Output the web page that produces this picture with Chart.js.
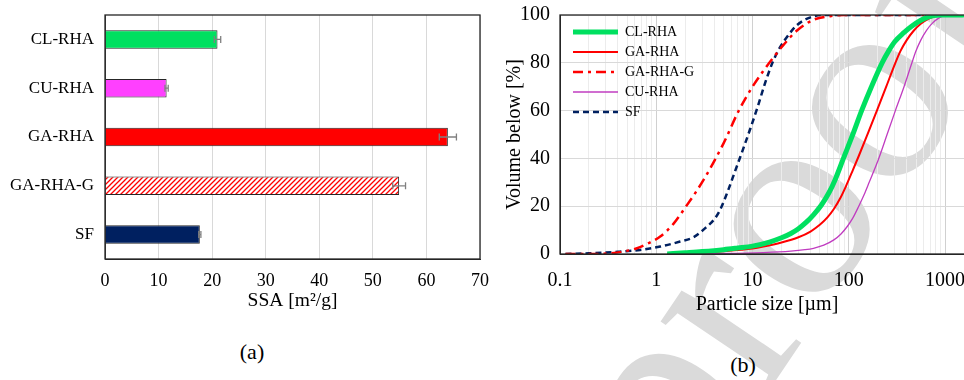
<!DOCTYPE html>
<html>
<head>
<meta charset="utf-8">
<script src="https://cdn.jsdelivr.net/npm/chart.js@4.4.1/dist/chart.umd.min.js"></script>
<style>
  html, body { margin: 0; padding: 0; background: #fff; overflow: hidden; }
  body { width: 964px; height: 380px; position: relative; font-family: "Liberation Serif", "Times New Roman", serif; }
  #boxA { position: absolute; left: 0; top: 0; width: 500px; height: 325px; }
  #boxB { position: absolute; left: 490px; top: 0; width: 520px; height: 330px; }
  .cap { position: absolute; font-size: 22px; transform: translate(-50%, -50%); }
  #mark { position: absolute; right: -61px; top: -223px; font-size: 280px; line-height: 1; white-space: nowrap;
          color: #dadada; pointer-events: none;
          transform: rotate(-56deg); transform-origin: 100% 83.75%; }
</style>
</head>
<body>
<div id="mark">Journal Pre-proof</div>
<div id="boxA"><canvas id="ssaChart"></canvas></div>
<div id="boxB"><canvas id="psdChart"></canvas></div>
<div class="cap" style="left:252px; top:352px;">(a)</div>
<div class="cap" style="left:743px; top:365px;">(b)</div>
<script>
// (a) specific surface area
const ssaLabels = ["CL-RHA", "CU-RHA", "GA-RHA", "GA-RHA-G", "SF"];
const ssaValues = [21.0, 11.5, 64.0, 54.9, 17.7];
const ssaErrors = [0.6, 0.3, 1.6, 1.2, 0.2];

// (b) particle size distribution, size in µm / volume below in %
const sizeTicks = [0.1, 1, 10, 100, 1000];
const clrhaSize = [1.3, 2, 3, 5, 7, 10, 15, 20, 25, 30, 36, 43, 52, 62, 72, 88, 110, 136, 172, 222, 260, 300, 371, 450, 550, 650, 760, 900, 2000];
const clrhaVol  = [0, 0.5, 1.0, 1.8, 2.5, 3.3, 5.0, 6.8, 8.6, 10.6, 13.2, 16.4, 20.5, 25.5, 31, 40, 50, 60, 70, 80, 85, 88.8, 92.5, 95.3, 97.6, 99, 99.8, 100, 100];
const garhaSize = [1.3, 2, 5, 10, 13, 20, 30, 40, 50, 60, 70, 82, 95, 110, 127, 158, 196, 245, 305, 345, 400, 470, 560, 670, 822, 950, 2000];
const garhaVol  = [0, 0.3, 1.2, 2.3, 3.1, 4.8, 7.0, 9.4, 12.2, 15.3, 18.8, 23.5, 29, 35, 41, 50.5, 60, 70, 80, 85, 89.5, 93.3, 96.3, 98.4, 99.7, 100, 100];
const garhagSize = [0.114, 0.2, 0.33, 0.45, 0.63, 0.8, 1.1, 1.5, 1.92, 3.1, 5, 7.2, 10, 12.9, 16.7, 21, 29, 43, 64, 90, 2000];
const garhagVol  = [0, 0, 0.3, 1.0, 2.4, 4.2, 7.3, 12.5, 18.4, 31, 46.3, 60, 70, 76.5, 82.5, 87.5, 93.5, 98, 99.5, 100, 100];
const curhaSize = [1.3, 5, 13, 25, 35, 43, 55, 70, 83, 96, 110, 127, 145, 163, 205, 250, 305, 375, 453, 500, 560, 640, 740, 860, 1000, 1150, 2000];
const curhaVol  = [0, 0.2, 0.6, 1.2, 1.8, 2.4, 3.7, 5.9, 8.4, 11.4, 15, 20, 25, 30, 40, 50, 60, 70, 80, 85, 89.5, 93.5, 96.6, 98.7, 99.7, 100, 100];
const sfSize = [0.114, 0.2, 0.4, 0.68, 1.1, 1.77, 2.44, 3.35, 4.0, 4.6, 5.6, 6.5, 8, 9.5, 11.4, 13.5, 16.3, 19, 23, 29, 40, 54, 2000];
const sfVol  = [0, 0.3, 0.9, 1.7, 3.1, 5.2, 7.0, 11.4, 14.5, 18.4, 26.8, 34, 44, 52.5, 62, 71.5, 80.5, 86, 91, 95.8, 99, 100, 100];

const serif = "'Liberation Serif', 'Times New Roman', serif";

function toPoints(xs, ys) {
    return xs.map((x, i) => ({ x: x, y: ys[i] }));
}

// diagonal red hatch for GA-RHA-G
function hatchPattern() {
    let c = document.createElement("canvas");
    c.width = 5; c.height = 5;
    let g = c.getContext("2d");
    g.fillStyle = "#fff";
    g.fillRect(0, 0, 5, 5);
    g.strokeStyle = "#ff0000";
    g.lineWidth = 1.3;
    g.beginPath();
    g.moveTo(-1, 6); g.lineTo(6, -1);
    g.moveTo(-1, 1); g.lineTo(1, -1);
    g.moveTo(4, 6); g.lineTo(6, 4);
    g.stroke();
    return g.createPattern(c, "repeat");
}

// box round the plot area
const frame = {
    id: "frame",
    afterDatasetsDraw(chart) {
        let a = chart.chartArea, ctx = chart.ctx;
        ctx.save();
        ctx.strokeStyle = "#262626";
        ctx.lineWidth = 1.3;
        ctx.strokeRect(a.left, a.top, a.right - a.left, a.bottom - a.top);
        ctx.restore();
    }
};

// horizontal error bars read from ssaErrors
const errorBars = {
    id: "errorBars",
    afterDatasetsDraw(chart) {
        let ctx = chart.ctx, xs = chart.scales.x, ys = chart.scales.y;
        ctx.save();
        ctx.strokeStyle = "#808080";
        ctx.lineWidth = 1.3;
        ssaValues.forEach((v, i) => {
            let x1 = xs.getPixelForValue(v - ssaErrors[i]);
            let x2 = xs.getPixelForValue(v + ssaErrors[i]);
            let y = ys.getPixelForValue(i);
            ctx.beginPath();
            ctx.moveTo(x1, y); ctx.lineTo(x2, y);
            ctx.moveTo(x1, y - 3.5); ctx.lineTo(x1, y + 3.5);
            ctx.moveTo(x2, y - 3.5); ctx.lineTo(x2, y + 3.5);
            ctx.stroke();
        });
        ctx.restore();
    }
};

// line legend inside the plot, top left
const lineLegend = {
    id: "lineLegend",
    afterDraw(chart) {
        let ctx = chart.ctx, a = chart.chartArea;
        ctx.save();
        chart.data.datasets.forEach((ds, row) => {
            let y = a.top + 17 + row * 20;
            ctx.strokeStyle = ds.borderColor;
            ctx.lineWidth = ds.borderWidth;
            ctx.setLineDash(ds.borderDash || []);
            ctx.beginPath();
            ctx.moveTo(a.left + 13, y);
            ctx.lineTo(a.left + 58, y);
            ctx.stroke();
            ctx.setLineDash([]);
            ctx.fillStyle = "#000";
            ctx.font = "14px " + serif;
            ctx.textBaseline = "middle";
            ctx.fillText(ds.label, a.left + 65, y);
        });
        ctx.restore();
    }
};

// keep the plot top where the layout padding puts it
function noVerticalPadding(s) {
    s.paddingTop = 0;
    s.paddingBottom = 0;
}

new Chart(document.getElementById("ssaChart"), {
    type: "bar",
    data: {
        labels: ssaLabels,
        datasets: [{
            data: ssaValues,
            backgroundColor: ["#00e060", "#ff40ff", "#ff0000", hatchPattern(), "#002060"],
            borderColor: "#262626",
            borderWidth: 1,
            categoryPercentage: 1,
            barPercentage: 0.38
        }]
    },
    options: {
        indexAxis: "y",
        responsive: true,
        maintainAspectRatio: false,
        animation: false,
        layout: { padding: { top: 15, right: 17, left: 0, bottom: 0 } },
        plugins: { legend: { display: false }, tooltip: { enabled: false } },
        scales: {
            x: {
                min: 0, max: 70,
                ticks: { stepSize: 10, color: "#000", padding: 11, font: { family: serif, size: 18 } },
                grid: { color: "#d9d9d9", drawTicks: false },
                border: { color: "#262626" },
                title: { display: true, text: "SSA [m²/g]", color: "#000", padding: { top: 0, bottom: 12 }, font: { family: serif, size: 19.5 } },
                afterFit(s) { s.height = 66; }
            },
            y: {
                ticks: { color: "#000", padding: 11, font: { family: serif, size: 17 } },
                grid: { display: false, drawTicks: false },
                border: { color: "#404040" },
                afterFit(s) { s.width = 105; noVerticalPadding(s); }
            }
        }
    },
    plugins: [errorBars, frame]
});

function lineSet(label, xs, ys, color, width, dash) {
    return {
        label: label,
        data: toPoints(xs, ys),
        borderColor: color,
        backgroundColor: color,
        borderWidth: width,
        borderDash: dash,
        pointRadius: 0,
        fill: false,
        cubicInterpolationMode: "monotone"
    };
}

new Chart(document.getElementById("psdChart"), {
    type: "line",
    data: {
        datasets: [
            lineSet("CL-RHA", clrhaSize, clrhaVol, "#00e060", 5, []),
            lineSet("GA-RHA", garhaSize, garhaVol, "#ff0000", 2, []),
            lineSet("GA-RHA-G", garhagSize, garhagVol, "#ff0000", 2.5, [10, 5, 3, 5]),
            lineSet("CU-RHA", curhaSize, curhaVol, "#c03cc0", 1.3, []),
            lineSet("SF", sfSize, sfVol, "#002060", 2.5, [6, 4])
        ]
    },
    options: {
        responsive: true,
        maintainAspectRatio: false,
        animation: false,
        layout: { padding: { top: 15, right: 36, left: 0, bottom: 0 } },
        plugins: { legend: { display: false }, tooltip: { enabled: false } },
        scales: {
            x: {
                type: "logarithmic",
                min: 0.1, max: 2000,
                afterBuildTicks(s) {
                    let t = [];
                    sizeTicks.forEach(d => {
                        for (let k = 1; k <= 9; k++) {
                            let v = +(d * k).toPrecision(3);
                            if (v <= 2000) t.push({ value: v });
                        }
                    });
                    t.push({ value: 2000 });
                    s.ticks = t;
                },
                ticks: {
                    autoSkip: false, maxRotation: 0, color: "#000", padding: 15,
                    font: { family: serif, size: 20 },
                    callback(v) { return sizeTicks.includes(v) ? String(v) : ""; }
                },
                grid: {
                    drawTicks: false,
                    color(c) { return sizeTicks.includes(c.tick.value) ? "#d0d0d0" : "#ececec"; }
                },
                border: { color: "#262626" },
                title: { display: true, text: "Particle size [µm]", color: "#000", padding: { top: 0, bottom: 13 }, font: { family: serif, size: 20 } },
                afterFit(s) { s.height = 76; }
            },
            y: {
                min: 0, max: 100,
                ticks: { stepSize: 20, color: "#000", padding: 10, font: { family: serif, size: 20 } },
                grid: { color: "#d9d9d9", drawTicks: false },
                border: { color: "#262626" },
                title: { display: true, text: "Volume below [%]", color: "#000", padding: { top: 13, bottom: 0 }, font: { family: serif, size: 20 } },
                afterFit(s) { s.width = 70; noVerticalPadding(s); }
            }
        }
    },
    plugins: [frame, lineLegend]
});
</script>
</body>
</html>
